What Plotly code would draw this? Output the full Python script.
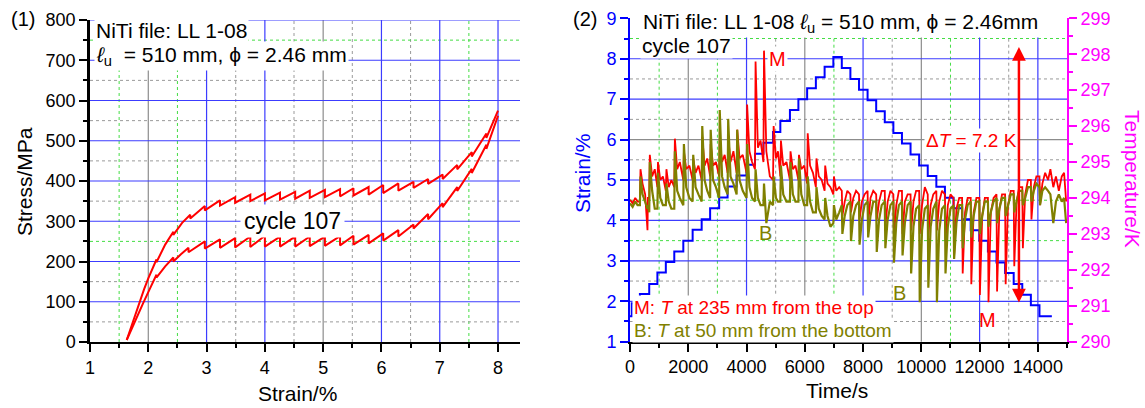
import plotly.graph_objects as go

W, H = 1145, 408
FONT = "Liberation Sans, Arial, Helvetica, sans-serif"

RED = "#ff0000"
OLIVE = "#808000"
BLUE = "#0000ff"
MAGENTA = "#ff00ff"
GRID_BLUE = "#3c3cff"
GRID_GRAY = "#8c8c8c"
DOT_GRAY = "#9a9a9a"
DOT_GREEN = "#44dd44"

# ---------------- panel (1): stress-strain loop, cycle 107 ----------------
load_strain = [1.63, 1.70, 1.78, 1.86, 1.93, 2.00, 2.07, 2.14, 2.14, 2.29, 2.43, 2.43,
               2.58, 2.72, 2.72, 2.97, 2.97, 3.23, 3.23, 3.49, 3.49, 3.75, 3.75,
               4.00, 4.00, 4.26, 4.26, 4.52, 4.52, 4.77, 4.77, 5.03, 5.03, 5.29, 5.29,
               5.52, 5.52, 5.78, 5.78, 6.03, 6.03, 6.29, 6.29, 6.55, 6.55, 6.80, 6.80,
               7.05, 7.05, 7.30, 7.30, 7.55, 7.55, 7.80, 7.80, 8.00]
load_stress = [5, 35, 70, 104, 132, 158, 182, 205, 198, 242, 274, 266,
               296, 316, 307, 338, 327, 352, 339, 360, 346, 366, 350,
               369, 352, 371, 354, 373, 356, 376, 358, 378, 360, 380, 362,
               382, 364, 385, 366, 390, 370, 394, 376, 398, 383, 405, 393,
               416, 405, 440, 429, 472, 461, 518, 507, 575]

unload_strain = [1.63, 1.72, 1.81, 1.91, 2.02, 2.14, 2.14, 2.29, 2.43, 2.43, 2.56,
                 2.69, 2.69, 2.97, 2.97, 3.23, 3.23, 3.49, 3.49, 3.75, 3.75,
                 4.00, 4.00, 4.26, 4.26, 4.52, 4.52, 4.77, 4.77, 5.03, 5.03, 5.29, 5.29,
                 5.52, 5.52, 5.78, 5.78, 6.03, 6.03, 6.29, 6.29, 6.55, 6.55, 6.80, 6.80,
                 7.05, 7.05, 7.30, 7.30, 7.55, 7.55, 7.80, 7.80, 8.00]
unload_stress = [5, 35, 65, 96, 130, 167, 160, 188, 210, 200, 218,
                 234, 223, 250, 232, 255, 234, 258, 235, 262, 236,
                 264, 237, 262, 237, 262, 237, 262, 238, 262, 239, 263, 240,
                 264, 242, 266, 245, 270, 252, 278, 262, 292, 282, 318, 305,
                 345, 335, 385, 375, 430, 420, 490, 480, 562]

# ---------------- panel (2): strain and temperatures vs time ----------------
strain_time = [0, 60, 340, 660, 940, 1230, 1520, 1830, 2150, 2460, 2750, 3060, 3350,
               3660, 4000, 4290, 4580, 4910, 5160, 5490, 5780, 6080, 6380, 6680, 6980,
               7270, 7565, 7860, 8155, 8450, 8745, 9040, 9335, 9630, 9925, 10220,
               10515, 10810, 11105, 11400, 11695, 11990, 12285, 12580, 12875, 13170,
               13465, 13760, 14055, 14480]
strain_pct = [1.63, 1.95, 2.18, 2.43, 2.71, 2.97, 3.23, 3.50, 3.77, 4.03, 4.30, 4.57,
              4.84, 5.11, 5.38, 5.65, 5.92, 6.19, 6.46, 6.73, 7.00, 7.27, 7.54, 7.80,
              8.04, 7.77, 7.50, 7.23, 6.97, 6.70, 6.43, 6.16, 5.90, 5.63, 5.36, 5.10,
              4.83, 4.56, 4.30, 4.03, 3.76, 3.50, 3.23, 2.96, 2.70, 2.43, 2.16, 1.90,
              1.63, 1.63]

temp_time = [
    0, 90, 180, 260, 340, 360, 430, 520, 600, 615,
    660, 680, 760, 850,
    940, 960, 1040, 1130,
    1230, 1250, 1330, 1420,
    1520, 1540, 1620, 1710,
    1830, 1850, 1930, 2040,
    2150, 2170, 2250, 2350,
    2460, 2480, 2560, 2650,
    2750, 2770, 2850, 2950,
    3060, 3080, 3160, 3250,
    3350, 3370, 3450, 3550,
    3660, 3680, 3760, 3870,
    4000, 4020, 4100, 4190,
    4290, 4310, 4390, 4480,
    4580, 4600, 4680, 4800,
    4910, 4930, 5010, 5080,
    5160, 5180, 5260, 5370,
    5490, 5510, 5590, 5680,
    5780, 5800, 5880, 5980,
    6080, 6100, 6180, 6280,
    6380, 6400, 6480, 6580,
    6680, 6700, 6780, 6880,
    6980, 7000, 7080, 7180,
    7270, 7290, 7370, 7460,
    7565, 7585, 7665, 7760,
    7860, 7880, 7960, 8050,
    8155, 8175, 8255, 8350,
    8450, 8470, 8550, 8640,
    8745, 8765, 8845, 8940,
    9040, 9060, 9140, 9230,
    9335, 9355, 9435, 9530,
    9630, 9650, 9730, 9820,
    9925, 9945, 10025, 10120,
    10220, 10240, 10320, 10410,
    10515, 10535, 10615, 10710,
    10810, 10830, 10910, 11000,
    11105, 11125, 11205, 11300,
    11400, 11420, 11500, 11590,
    11695, 11715, 11795, 11890,
    11990, 12010, 12090, 12180,
    12285, 12305, 12385, 12480,
    12580, 12600, 12680, 12770,
    12875, 12895, 12975, 13070,
    13170, 13190, 13270, 13360,
    13465, 13485, 13565, 13660,
    13760, 13780, 13860, 13950,
    14055, 14075, 14155, 14250,
    14350, 14430, 14530, 14620, 14720, 14820, 14900, 14970,
]

# M: T at 235 mm from the top
temp_m = [
    293.95, 293.85, 294.0, 293.9, 293.9, 294.8, 294.4, 294.1, 293.1, 294.0,
    294.0, 295.2, 294.6, 294.8,
    294.3, 295.0, 294.5, 294.6,
    294.2, 294.8, 294.3, 294.5,
    294.3, 295.65, 294.8, 295.0,
    294.5, 295.3, 294.8, 294.9,
    294.5, 295.1, 294.7, 294.9,
    294.5, 295.7, 294.9, 295.1,
    294.6, 295.5, 294.9, 295.0,
    294.6, 295.6, 295.0, 295.2,
    294.7, 295.7, 295.0, 295.3,
    294.7, 295.9, 295.1, 295.2,
    294.7, 296.6, 295.3, 295.0,
    294.8, 297.8, 295.4, 295.6,
    295.0, 298.1, 295.3, 294.6,
    294.5, 296.0, 295.1, 295.3,
    294.6, 295.6, 294.9, 295.0,
    294.5, 295.3, 294.8, 294.9,
    294.5, 295.2, 294.8, 294.9,
    294.4, 295.8, 294.9, 294.7,
    294.3, 295.1, 294.6, 294.5,
    294.2, 294.9, 294.4, 294.3,
    294.1, 294.6, 294.2, 294.3,
    294.2, 293.5, 293.9, 294.2,
    294.1, 293.6, 294.0, 294.2,
    294.1, 293.4, 293.9, 294.1,
    294.2, 293.3, 294.0, 294.2,
    294.1, 293.4, 293.9, 294.2,
    294.2, 293.2, 293.9, 294.2,
    294.1, 292.9, 293.8, 294.2,
    294.2, 293.0, 293.9, 294.1,
    294.1, 293.1, 293.9, 294.2,
    294.2, 293.0, 293.8, 294.3,
    294.1, 292.9, 293.8, 294.1,
    294.2, 293.1, 293.9, 294.2,
    294.1, 292.8, 293.8, 294.1,
    294.0, 292.4, 293.7, 294.0,
    294.0, 291.9, 293.6, 294.0,
    294.0, 291.6, 293.6, 294.0,
    294.0, 291.3, 293.5, 294.0,
    294.0, 291.1, 293.6, 294.0,
    294.1, 291.4, 293.7, 294.1,
    294.1, 291.6, 293.8, 294.2,
    294.2, 292.1, 293.9, 294.3,
    294.3, 292.6, 294.1, 294.5,
    294.5, 293.4, 294.3, 294.6,
    294.6, 293.8, 294.4, 294.7,
    294.5, 294.8, 294.3, 294.6, 294.2, 294.6, 294.7, 293.9,
]

# B: T at 50 mm from the bottom
temp_b = [
    293.85, 293.75, 293.9, 293.8, 293.8, 294.6, 294.1, 293.9, 293.7, 293.8,
    293.6, 295.0, 294.2, 293.7,
    293.7, 294.7, 294.0, 293.8,
    293.8, 294.4, 293.9, 293.7,
    293.7, 295.3, 294.2, 294.0,
    293.8, 295.5, 294.3, 294.0,
    293.9, 295.2, 294.3, 294.1,
    293.9, 296.0, 294.5, 294.2,
    294.0, 295.9, 294.5, 294.3,
    294.0, 296.45, 294.6, 294.3,
    294.1, 296.2, 294.6, 294.4,
    294.1, 295.9, 294.5, 294.2,
    294.0, 295.5, 294.3, 294.0,
    293.9, 294.8, 294.0, 293.8,
    293.8, 294.4, 293.3, 293.9,
    293.8, 294.6, 294.0, 293.9,
    293.9, 294.9, 294.1, 293.9,
    293.9, 295.0, 294.1, 293.9,
    293.9, 295.1, 294.1, 293.8,
    293.8, 294.6, 293.9, 293.6,
    293.6, 294.3, 293.7, 293.5,
    293.4, 294.0, 293.5, 293.2,
    293.3, 293.8, 293.4, 293.6,
    293.8, 293.0, 293.5, 293.8,
    293.9, 292.8, 293.5, 293.8,
    293.9, 292.7, 293.4, 293.8,
    293.9, 292.9, 293.5, 293.9,
    293.9, 292.5, 293.4, 293.8,
    293.9, 292.6, 293.4, 293.8,
    293.9, 292.2, 293.3, 293.8,
    293.9, 292.4, 293.3, 293.8,
    293.9, 291.9, 293.2, 293.7,
    293.8, 291.1, 293.1, 293.7,
    293.8, 291.5, 293.2, 293.7,
    293.9, 291.1, 293.1, 293.7,
    293.8, 291.9, 293.2, 293.7,
    293.8, 292.3, 293.3, 293.8,
    293.8, 292.6, 293.4, 293.8,
    293.9, 292.9, 293.5, 293.9,
    293.9, 293.0, 293.5, 293.9,
    293.9, 293.2, 293.6, 293.9,
    294.0, 293.3, 293.7, 294.0,
    294.0, 293.5, 293.8, 294.1,
    294.1, 293.6, 293.9, 294.2,
    294.2, 293.8, 294.0, 294.3,
    294.3, 293.9, 294.2, 294.4,
    294.3, 293.8, 294.2, 294.3,
    294.2, 294.1, 293.3, 293.9, 294.1, 293.9, 294.0, 293.3,
]

assert len(temp_time) == len(temp_m) == len(temp_b)
assert len(load_strain) == len(load_stress)
assert len(unload_strain) == len(unload_stress)
assert len(strain_time) == len(strain_pct)

# ---------------- grid definitions ----------------
# panel (1)
p1_vmajor = [(2, GRID_GRAY), (3, GRID_BLUE), (4, GRID_BLUE), (5, GRID_GRAY),
             (6, GRID_BLUE), (7, GRID_BLUE), (8, GRID_BLUE)]
p1_vminor = [(1.5, DOT_GREEN), (2.5, DOT_GREEN), (3.5, DOT_GRAY), (4.5, DOT_GRAY),
             (5.5, DOT_GRAY), (6.5, DOT_GRAY), (7.5, DOT_GREEN)]
p1_hmajor = [(v, GRID_BLUE) for v in (100, 200, 300, 400, 500, 600, 700, 800)]
p1_hminor = [(50, DOT_GRAY), (150, DOT_GRAY), (250, DOT_GREEN), (350, DOT_GRAY),
             (450, DOT_GRAY), (550, DOT_GRAY), (650, DOT_GRAY), (750, DOT_GREEN)]
# panel (2)
p2_vmajor = [(2000, GRID_GRAY), (4000, GRID_BLUE), (6000, GRID_GRAY), (8000, GRID_BLUE),
             (10000, GRID_GRAY), (12000, GRID_BLUE), (14000, GRID_BLUE)]
p2_vminor = [(1000, DOT_GREEN), (3000, DOT_GREEN), (5000, DOT_GRAY), (7000, DOT_GREEN),
             (9000, DOT_GRAY), (11000, DOT_GREEN), (13000, DOT_GRAY)]
p2_hmajor = [(2, GRID_BLUE), (3, GRID_BLUE), (4, GRID_BLUE), (5, GRID_BLUE),
             (6, GRID_GRAY), (7, GRID_BLUE), (8, GRID_BLUE)]
p2_hminor = [(1.5, DOT_GRAY), (2.5, DOT_GRAY), (3.5, DOT_GREEN), (4.5, DOT_GREEN),
             (5.5, DOT_GRAY), (6.5, DOT_GRAY), (7.5, DOT_GRAY), (8.5, DOT_GREEN)]


def px(x):
    return x / W


def py(y):
    return 1 - y / H


shapes = []


def vlines(items, xref, yref, dash, width):
    for v, c in items:
        shapes.append(dict(type="line", xref=xref, yref=yref, x0=v, x1=v, y0=0, y1=1,
                           line=dict(color=c, width=width, dash=dash), layer="below"))


def hlines(items, xref, yref, dash, width):
    for v, c in items:
        shapes.append(dict(type="line", xref=xref, yref=yref, x0=0, x1=1, y0=v, y1=v,
                           line=dict(color=c, width=width, dash=dash), layer="below"))


vlines(p1_vminor, "x", "y domain", "dot", 1)
hlines(p1_hminor, "x domain", "y", "dot", 1)
vlines(p1_vmajor, "x", "y domain", "solid", 1.2)
hlines(p1_hmajor, "x domain", "y", "solid", 1.2)
vlines(p2_vminor, "x2", "y2 domain", "dot", 1)
hlines(p2_hminor, "x2 domain", "y2", "dot", 1)
vlines(p2_vmajor, "x2", "y2 domain", "solid", 1.2)
hlines(p2_hmajor, "x2 domain", "y2", "solid", 1.2)

fig = go.Figure()

fig.add_trace(go.Scatter(x=load_strain, y=load_stress, xaxis="x", yaxis="y",
                         mode="lines", line=dict(color=RED, width=2), showlegend=False))
fig.add_trace(go.Scatter(x=unload_strain, y=unload_stress, xaxis="x", yaxis="y",
                         mode="lines", line=dict(color=RED, width=2), showlegend=False))

fig.add_trace(go.Scatter(x=strain_time, y=strain_pct, xaxis="x2", yaxis="y2",
                         mode="lines", line=dict(color=BLUE, width=2, shape="hv"),
                         showlegend=False))
fig.add_trace(go.Scatter(x=temp_time, y=temp_m, xaxis="x2", yaxis="y3",
                         mode="lines", line=dict(color=RED, width=1.8), showlegend=False))
fig.add_trace(go.Scatter(x=temp_time, y=temp_b, xaxis="x2", yaxis="y3",
                         mode="lines", line=dict(color=OLIVE, width=2.2), showlegend=False))


def axis_common(color, lw):
    return dict(showline=True, linecolor=color, linewidth=lw, ticks="outside",
                ticklen=8, tickwidth=2, tickcolor=color, showgrid=False, zeroline=False,
                automargin=False, tickformat="d",
                tickfont=dict(family=FONT, size=18, color=color))


fig.update_layout(
    width=W, height=H, margin=dict(l=0, r=0, t=0, b=0),
    paper_bgcolor="white", plot_bgcolor="white", showlegend=False,
    font=dict(family=FONT, size=18, color="black"),
    xaxis=dict(domain=[px(90), px(520)], range=[1, 8.377], anchor="y", dtick=1, tick0=0,
               minor=dict(ticks="outside", ticklen=4, tickwidth=1.5, tickcolor="black",
                          dtick=0.5, tick0=0, showgrid=False),
               **axis_common("black", 2)),
    yaxis=dict(domain=[py(342), py(20)], range=[0, 800], anchor="x", dtick=100, tick0=0,
               minor=dict(ticks="outside", ticklen=4, tickwidth=1.5, tickcolor="black",
                          dtick=50, tick0=0, showgrid=False),
               **axis_common("black", 2.5)),
    xaxis2=dict(domain=[px(630), px(1067)], range=[0, 15000], anchor="y2", dtick=2000,
                tick0=0,
                minor=dict(ticks="outside", ticklen=4, tickwidth=1.5, tickcolor="black",
                           dtick=1000, tick0=0, showgrid=False),
                **axis_common("black", 2)),
    yaxis2=dict(domain=[py(341.7), py(18.3)], range=[1, 9], anchor="x2", dtick=1, tick0=0,
                minor=dict(ticks="outside", ticklen=4, tickwidth=1.5, tickcolor=BLUE,
                           dtick=0.5, tick0=0, showgrid=False),
                **axis_common(BLUE, 2)),
    yaxis3=dict(range=[290, 299], anchor="x2", overlaying="y2", side="right", dtick=1,
                tick0=0,
                minor=dict(ticks="outside", ticklen=4, tickwidth=1.5, tickcolor=MAGENTA,
                           dtick=0.5, tick0=0, showgrid=False),
                **axis_common(MAGENTA, 2)),
    shapes=shapes,
)

ann = []


def text_px(txt, x, y, size, color="black", xanchor="left", angle=0, bg=None):
    d = dict(text=txt, xref="paper", yref="paper", x=px(x), y=py(y), showarrow=False,
             xanchor=xanchor, yanchor="middle", textangle=angle,
             font=dict(family=FONT, size=size, color=color))
    if bg:
        d.update(bgcolor=bg, borderpad=1)
    ann.append(d)


# panel labels and axis titles
text_px("(1)", 23, 19, 20, xanchor="center")
text_px("(2)", 585, 19, 20, xanchor="center")
text_px("Stress/MPa", 24, 182, 21, xanchor="center", angle=-90)
text_px("Strain/%", 298, 393, 21, xanchor="center")
text_px("Strain/%", 582, 174, 21, color=BLUE, xanchor="center", angle=-90)
text_px("Time/s", 837, 390, 21, xanchor="center")
text_px("Temperature/K", 1133, 179, 21, color=MAGENTA, xanchor="center", angle=90)

# header texts
text_px("NiTi file: LL 1-08", 94, 31, 21, bg="white")
text_px("<i>ℓ</i><sub>u</sub>\u00a0 = 510 mm, ϕ = 2.46 mm", 94, 56, 21, bg="white")
text_px("NiTi file: LL 1-08 <i>ℓ</i><sub>u</sub> = 510 mm, ϕ = 2.46mm", 641, 23, 21,
        bg="white")
text_px("cycle 107", 640, 45, 21, bg="white")

# loop label
ann.append(dict(text="cycle 107", xref="x", yref="y", x=4.48, y=300, showarrow=False,
                xanchor="center", yanchor="middle", bgcolor="white", borderpad=3,
                font=dict(family=FONT, size=23, color="black")))

# labels on the temperature traces


def label(txt, t, temp, color, bg=None, size=20):
    d = dict(text=txt, xref="x2", yref="y3", x=t, y=temp, showarrow=False,
             xanchor="center", yanchor="middle",
             font=dict(family=FONT, size=size, color=color))
    if bg:
        d.update(bgcolor=bg, borderpad=1)
    ann.append(d)


label("M", 5047, 297.87, RED, bg="white")
label("M", 12258, 290.61, RED)
label("B", 4659, 293.02, OLIVE)
label("B", 9236, 291.36, OLIVE)
label("Δ<i>T</i> = 7.2 K", 11708, 295.6, RED, bg="white", size=19)

# ΔT arrow
ann.append(dict(text="", xref="x2", yref="y3", x=13350, y=298.2, axref="x2", ayref="y3",
                ax=13350, ay=291.05, showarrow=True, arrowhead=2, arrowside="end+start",
                arrowsize=1.1, arrowwidth=2.5, arrowcolor=RED, standoff=0, startstandoff=0))

# legend lines
text_px("M: <i>T</i> at 235 mm from the top", 632, 307, 19, color=RED, bg="white")
text_px("B: <i>T</i> at 50 mm from the bottom", 632, 330, 19, color=OLIVE, bg="white")

fig.update_layout(annotations=ann)

fig.write_html("out.html")
